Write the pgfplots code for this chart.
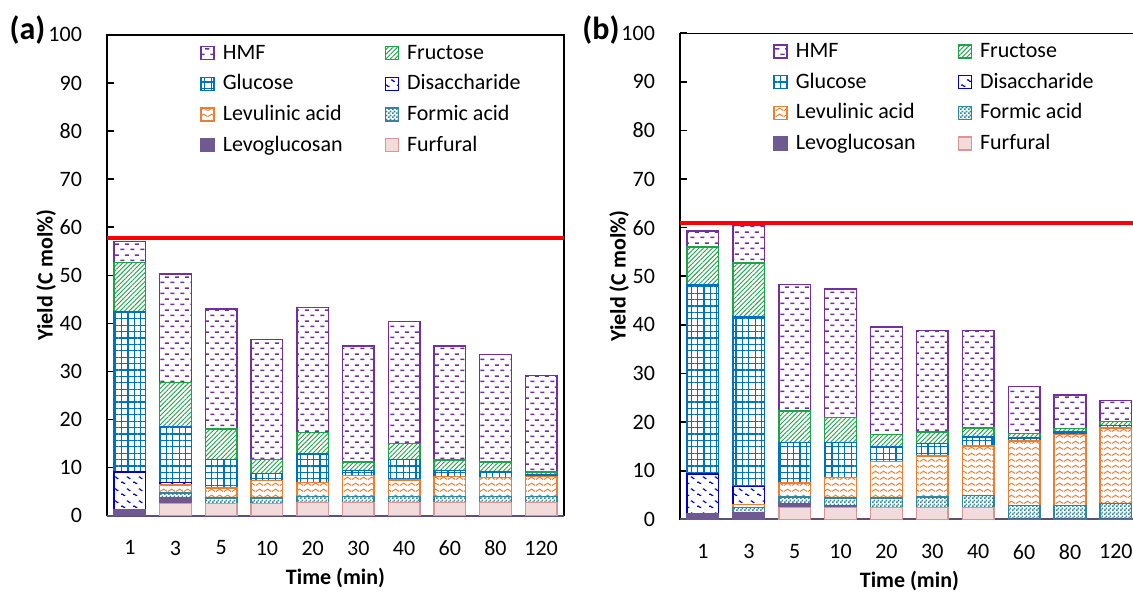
\documentclass[border=0pt]{standalone}
\usepackage{fontspec}
\setmainfont{Carlito}
\usepackage{pgfplots}
\pgfplotsset{compat=1.18}
\usetikzlibrary{patterns,patterns.meta}

\definecolor{hmfc}{HTML}{7030A0}
\definecolor{frc}{HTML}{1FA24A}
\definecolor{glc}{HTML}{0070C0}
\definecolor{dic}{HTML}{0000CC}
\definecolor{lvc}{HTML}{ED7D31}
\definecolor{foc}{HTML}{31859C}
\definecolor{lgc}{HTML}{6E5A91}
\definecolor{furfill}{HTML}{F2DCDB}
\definecolor{furdraw}{HTML}{D99694}
\definecolor{axbot}{HTML}{5E4E7E}

% dashes for HMF
\pgfdeclarepatternformonly{hmfdash}{\pgfpointorigin}{\pgfpoint{5pt}{5.6pt}}{\pgfpoint{5pt}{5.6pt}}{%
  \pgfsetlinewidth{0.8pt}%
  \pgfpathmoveto{\pgfpoint{0.2pt}{1.4pt}}\pgfpathlineto{\pgfpoint{2.4pt}{1.4pt}}%
  \pgfpathmoveto{\pgfpoint{2.7pt}{4.2pt}}\pgfpathlineto{\pgfpoint{4.9pt}{4.2pt}}%
  \pgfusepath{stroke}}
% small ticks for disaccharide
\pgfdeclarepatternformonly{diwave}{\pgfpointorigin}{\pgfpoint{6pt}{6pt}}{\pgfpoint{6pt}{6pt}}{%
  \pgfsetlinewidth{0.6pt}%
  \pgfpathmoveto{\pgfpoint{0.6pt}{2.4pt}}%
  \pgfpathcurveto{\pgfpoint{1.3pt}{3.4pt}}{\pgfpoint{2pt}{1.2pt}}{\pgfpoint{2.8pt}{2.0pt}}%
  \pgfpathmoveto{\pgfpoint{3.6pt}{5.2pt}}%
  \pgfpathcurveto{\pgfpoint{4.3pt}{6.0pt}}{\pgfpoint{5pt}{3.8pt}}{\pgfpoint{5.6pt}{4.6pt}}%
  \pgfusepath{stroke}}
% waves for levulinic acid
\pgfdeclarepatternformonly{lvwave}{\pgfpointorigin}{\pgfpoint{4pt}{2.8pt}}{\pgfpoint{4pt}{2.8pt}}{%
  \pgfsetlinewidth{0.5pt}%
  \pgfpathmoveto{\pgfpoint{0pt}{0.8pt}}%
  \pgfpathcurveto{\pgfpoint{0.7pt}{0.8pt}}{\pgfpoint{1.3pt}{2pt}}{\pgfpoint{2pt}{2pt}}%
  \pgfpathcurveto{\pgfpoint{2.7pt}{2pt}}{\pgfpoint{3.3pt}{0.8pt}}{\pgfpoint{4pt}{0.8pt}}%
  \pgfusepath{stroke}}
% checkerboard for formic acid
\pgfdeclarepatternformonly{fochk}{\pgfpointorigin}{\pgfpoint{2pt}{2pt}}{\pgfpoint{2pt}{2pt}}{%
  \pgfpathrectangle{\pgfpointorigin}{\pgfpoint{1pt}{1pt}}%
  \pgfpathrectangle{\pgfpoint{1pt}{1pt}}{\pgfpoint{1pt}{1pt}}%
  \pgfusepath{fill}}

% stack order: furfural, levoglucosan, formic, levulinic, disaccharide, glucose, fructose, HMF
\pgfplotstableread{
x fur lg fo lv di gl fr hmf
0 0   1.2 0   0   7.9 33.3 10.2 4.4
1 2.6 1.2 0.9 1.7 0.5 11.6 9.2  22.6
2 2.6 0   1.1 2.1 0   5.9  6.3  25.0
3 2.6 0   1.1 3.6 0   1.5  2.9  25.0
4 2.7 0   1.3 2.9 0   5.9  4.5  26.0
5 2.7 0   1.3 4.3 0   1.1  1.8  24.1
6 2.7 0   1.3 3.4 0   4.3  3.3  25.4
7 2.7 0   1.3 4.1 0   1.3  2.2  23.7
8 2.7 0   1.3 4.0 0   1.1  2.1  22.3
9 2.7 0   1.3 4.1 0   0.4  0.6  20.0
}\tabA
\pgfplotstableread{
x fur lg fo lv di gl fr hmf
0 0   1.2 0   0    8.1 38.9 7.8  3.3
1 0   1.4 1.0 0.7  3.6 34.9 11.1 7.7
2 2.4 0.9 1.3 2.9  0   8.3  6.5  26.0
3 2.4 0.3 1.7 4.2  0   7.2  5.1  26.5
4 2.4 0   2.0 7.5  0   3.0  2.6  22.1
5 2.4 0   2.2 8.4  0   2.6  2.4  20.8
6 2.4 0   2.5 10.2 0   1.8  1.9  20.0
7 0   0   2.9 13.2 0   0.6  0.9  9.7
8 0   0   2.9 14.6 0   0.5  0.7  6.9
9 0   0   3.3 15.5 0   0.5  0.8  4.4
}\tabB

\pgfplotsset{
  furst/.style={draw=furdraw, fill=furfill, line width=0.7pt},
  lgst/.style={draw=lgc, fill=lgc, line width=0.7pt},
  fost/.style={draw=foc, pattern=fochk, pattern color=foc, line width=0.7pt},
  lvst/.style={draw=lvc, pattern=lvwave, pattern color=lvc, line width=0.7pt},
  dist/.style={draw=dic, pattern=diwave, pattern color=dic, line width=0.7pt},
  glst/.style={draw=glc, pattern={Hatch[angle=0, distance=3.2pt, line width=0.6pt]}, pattern color=glc, line width=0.7pt},
  frst/.style={draw=frc, pattern={Lines[angle=45, distance=1.6pt, line width=0.45pt]}, pattern color=frc, line width=0.7pt},
  hmfst/.style={draw=hmfc, pattern=hmfdash, pattern color=hmfc, line width=0.7pt},
  legsq/.style={legend image code/.code={\draw[##1] (0pt,-3.25pt) rectangle (6.5pt,3.25pt);}},
  panel/.style={
    scale only axis, anchor=south west, clip=false,
    ybar stacked, bar width=0.69,
    xmin=-0.5, xmax=9.5, ymin=0, ymax=100,
    xtick={0,...,9}, xticklabels={1,3,5,10,20,30,40,60,80,120},
    ytick={0,10,...,100}, ytick pos=left,
    major x tick style={draw=none},
    major tick length=3.5pt,
    axis line style={black, line width=0.7pt},
    tick style={black, line width=0.8pt},
    tick label style={font=\fontsize{11}{13}\selectfont},
    /pgf/number format/assume math mode=true,
    yticklabel style={xshift=-9pt},
    xticklabel style={yshift=-9pt},
    xlabel={\textbf{Time (min)}},
    ylabel={\textbf{Yield (C mol\%)}},
    label style={font=\fontsize{11}{13}\selectfont},
    xlabel style={at={([yshift=-31pt]rel axis cs:0.5,0)}, anchor=center},
    ylabel style={at={([xshift=-30.5pt]rel axis cs:0,0.5)}, anchor=center},
    legend columns=2,
    legend cell align=left,
    legend style={draw=none, fill=none, at={(rel axis cs:0,1)}, anchor=north west,
      xshift=46.5pt, yshift=-1.5pt, inner xsep=0pt, inner ysep=0pt,
      font=\fontsize{11}{13}\selectfont, row sep=0.3pt,
      nodes={inner ysep=2pt, inner xsep=4pt, text height=8.5pt, text depth=2.5pt},
      /tikz/every even column/.append style={column sep=17pt}},
  },
}

\newcommand{\stackbars}[1]{%
  \addplot[furst, forget plot] table[x=x, y=fur] {#1};
  \addplot[lgst, forget plot] table[x=x, y=lg] {#1};
  \addplot[fost, forget plot] table[x=x, y=fo] {#1};
  \addplot[lvst, forget plot] table[x=x, y=lv] {#1};
  \addplot[dist, forget plot] table[x=x, y=di] {#1};
  \addplot[glst, forget plot] table[x=x, y=gl] {#1};
  \addplot[frst, forget plot] table[x=x, y=fr] {#1};
  \addplot[hmfst, forget plot] table[x=x, y=hmf] {#1};
}
\newcommand{\legendall}{%
  \addlegendimage{legsq, hmfst}\addlegendentry{HMF}
  \addlegendimage{legsq, frst}\addlegendentry{Fructose}
  \addlegendimage{legsq, glst}\addlegendentry{Glucose}
  \addlegendimage{legsq, dist}\addlegendentry{Disaccharide}
  \addlegendimage{legsq, lvst}\addlegendentry{Levulinic acid}
  \addlegendimage{legsq, fost}\addlegendentry{Formic acid}
  \addlegendimage{legsq, lgst}\addlegendentry{Levoglucosan}
  \addlegendimage{legsq, furst}\addlegendentry{Furfural}
}

\begin{document}
\begin{tikzpicture}
\begin{axis}[panel, at={(53.5pt,39.15pt)}, width=228.5pt, height=240.4pt]
  \stackbars{\tabA}
  \addplot[sharp plot, stack plots=false, forget plot, color=red, line width=2pt] coordinates {(-0.5,57.7) (9.5,57.7)};
  \addplot[sharp plot, stack plots=false, forget plot, color=axbot, line width=1pt] coordinates {(-0.5,0) (9.5,0)};
  \legendall
\end{axis}
\begin{axis}[panel, at={(340pt,37.35pt)}, width=229.4pt, height=243pt]
  \stackbars{\tabB}
  \addplot[sharp plot, stack plots=false, forget plot, color=red, line width=2pt] coordinates {(-0.5,61.0) (9.5,61.0)};
  \addplot[sharp plot, stack plots=false, forget plot, color=axbot, line width=1pt] coordinates {(-0.5,0) (9.5,0)};
  \legendall
\end{axis}
\node[font=\bfseries\fontsize{16}{18}\selectfont] at (13.75pt,282pt) {(a)};
\node[font=\bfseries\fontsize{16}{18}\selectfont] at (300.5pt,282pt) {(b)};
\pgfresetboundingbox
\useasboundingbox (0pt,0pt) rectangle (566.5pt,297pt);
\end{tikzpicture}
\end{document}
